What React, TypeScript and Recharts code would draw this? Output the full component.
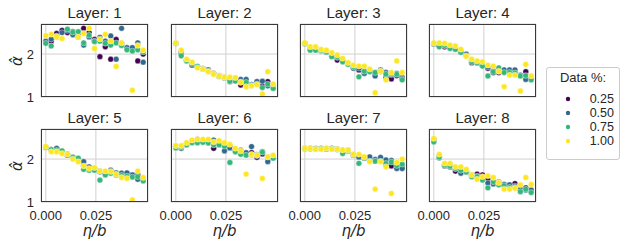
import React from 'react';
import { ScatterChart, Scatter, XAxis, YAxis, CartesianGrid } from 'recharts';

const X_VALUES = [0.0, 0.0027, 0.0054, 0.0081, 0.0108, 0.0135, 0.0162, 0.0189, 0.0216, 0.0243, 0.027, 0.0297, 0.0324, 0.0351, 0.0378, 0.0405, 0.0432, 0.0459, 0.0486];
const X_TICKS = [0, 0.025];
const Y_TICKS = [1, 2];
const SERIES_LABELS = ['0.25', '0.50', '0.75', '1.00'];
const SERIES_COLORS = ['#440154', '#31688e', '#35b779', '#fde725'];
const LAYER_TITLES = ['Layer: 1', 'Layer: 2', 'Layer: 3', 'Layer: 4', 'Layer: 5', 'Layer: 6', 'Layer: 7', 'Layer: 8'];

const L1_P25 = [2.30, 2.30, 2.48, 2.55, 2.50, 2.52, 2.45, 2.60, 2.50, 2.34, 1.94, 2.17, 1.88, 2.34, 2.25, 2.13, 2.10, 1.84, 2.00];
const L1_P50 = [2.30, 2.35, 2.40, 2.50, 2.55, 2.45, 2.40, 2.21, 2.40, 2.30, 2.39, 2.30, 2.42, 1.88, 2.60, 2.15, 2.15, 2.26, 1.81];
const L1_P75 = [2.25, 2.19, 2.42, 2.75, 2.58, 2.51, 2.52, 2.26, 2.44, 2.29, 2.30, 2.25, 2.21, 2.26, 2.20, 2.10, 2.07, 2.10, 2.05];
const L1_P100 = [2.43, 2.46, 2.40, 2.36, 2.75, 2.75, 2.40, 2.48, 2.60, 2.13, 2.35, 2.46, 2.30, 1.71, 2.26, 2.75, 1.16, 2.20, 2.09];

const L2_P25 = [2.25, 2.05, 1.86, 1.76, 1.70, 1.66, 1.63, 1.55, 1.50, 1.45, 1.36, 1.40, 1.28, 1.36, 1.29, 1.36, 1.26, 1.36, 1.28];
const L2_P50 = [2.25, 2.00, 1.85, 1.74, 1.70, 1.66, 1.60, 1.54, 1.49, 1.46, 1.40, 1.41, 1.41, 1.41, 1.29, 1.36, 1.37, 1.26, 1.26];
const L2_P75 = [2.25, 1.96, 1.84, 1.78, 1.71, 1.65, 1.61, 1.54, 1.48, 1.45, 1.37, 1.37, 1.35, 1.34, 1.27, 1.30, 1.22, 1.30, 1.20];
const L2_P100 = [2.26, 2.09, 1.88, 1.81, 1.68, 1.65, 1.59, 1.53, 1.49, 1.46, 1.46, 1.45, 1.34, 1.24, 1.26, 1.29, 1.07, 1.59, 1.30];

const L3_P25 = [2.25, 2.12, 2.12, 2.08, 2.05, 1.95, 1.86, 1.83, 1.78, 1.68, 1.63, 1.61, 1.60, 1.52, 1.60, 1.45, 1.42, 1.50, 1.45];
const L3_P50 = [2.25, 2.12, 2.12, 2.08, 2.05, 1.95, 1.92, 1.83, 1.78, 1.67, 1.67, 1.55, 1.62, 1.49, 1.63, 1.57, 1.52, 1.55, 1.42];
const L3_P75 = [2.24, 2.09, 2.09, 2.09, 2.05, 1.94, 1.94, 1.82, 1.76, 1.70, 1.47, 1.60, 1.59, 1.57, 1.60, 1.53, 1.54, 1.53, 1.40];
const L3_P100 = [2.26, 2.17, 2.17, 2.11, 2.09, 2.03, 1.98, 1.90, 1.80, 1.74, 1.72, 1.72, 1.65, 1.10, 1.60, 1.40, 1.57, 1.84, 1.57];

const L4_P25 = [2.24, 2.20, 2.17, 2.15, 2.12, 2.05, 1.98, 1.80, 1.80, 1.74, 1.67, 1.57, 1.57, 1.60, 1.58, 1.58, 1.50, 1.59, 1.43];
const L4_P50 = [2.24, 2.20, 2.20, 2.15, 2.12, 2.05, 2.00, 1.86, 1.82, 1.74, 1.70, 1.62, 1.60, 1.63, 1.63, 1.63, 1.51, 1.41, 1.41];
const L4_P75 = [2.25, 2.17, 2.20, 2.13, 2.11, 2.04, 1.96, 1.82, 1.80, 1.72, 1.49, 1.59, 1.68, 1.57, 1.57, 1.56, 1.49, 1.50, 1.40];
const L4_P100 = [2.26, 2.26, 2.25, 2.21, 2.19, 2.11, 1.95, 1.88, 1.84, 1.82, 1.74, 1.72, 1.60, 1.24, 1.51, 1.51, 1.14, 1.76, 1.49];

const L5_P25 = [2.28, 2.22, 2.24, 2.17, 2.10, 2.04, 2.00, 1.85, 1.80, 1.78, 1.71, 1.66, 1.72, 1.66, 1.64, 1.66, 1.63, 1.63, 1.55];
const L5_P50 = [2.28, 2.22, 2.25, 2.18, 2.09, 2.04, 2.00, 1.94, 1.82, 1.78, 1.71, 1.67, 1.74, 1.68, 1.67, 1.68, 1.63, 1.53, 1.55];
const L5_P75 = [2.27, 2.22, 2.20, 2.19, 2.12, 2.04, 2.02, 1.76, 1.74, 1.74, 1.51, 1.63, 1.67, 1.63, 1.62, 1.60, 1.58, 1.59, 1.49];
const L5_P100 = [2.29, 2.17, 2.17, 2.13, 2.11, 2.00, 1.94, 1.84, 1.78, 1.80, 1.72, 1.72, 1.71, 1.65, 1.57, 1.55, 1.05, 1.72, 1.57];

const L6_P25 = [2.30, 2.28, 2.36, 2.40, 2.46, 2.42, 2.38, 2.25, 2.36, 2.33, 2.30, 2.22, 2.15, 2.12, 2.15, 2.04, 2.12, 2.04, 2.05];
const L6_P50 = [2.30, 2.25, 2.36, 2.40, 2.44, 2.42, 2.40, 2.44, 2.37, 2.19, 2.26, 2.22, 2.21, 2.15, 2.29, 2.10, 2.17, 1.94, 2.05];
const L6_P75 = [2.26, 2.28, 2.33, 2.38, 2.38, 2.39, 2.38, 2.33, 2.33, 2.30, 1.92, 2.17, 2.11, 2.09, 2.10, 2.08, 2.16, 2.05, 2.02];
const L6_P100 = [2.31, 2.31, 2.38, 2.44, 2.46, 2.46, 2.46, 2.40, 2.43, 2.38, 2.34, 2.25, 2.19, 1.65, 2.11, 2.09, 1.55, 2.05, 2.09];

const L7_P25 = [2.25, 2.25, 2.24, 2.24, 2.24, 2.24, 2.23, 2.20, 2.20, 2.10, 2.05, 2.03, 1.98, 1.97, 2.00, 1.86, 1.84, 1.86, 1.85];
const L7_P50 = [2.25, 2.25, 2.24, 2.24, 2.24, 2.25, 2.23, 2.20, 2.20, 2.09, 2.05, 2.02, 2.05, 1.99, 2.04, 1.98, 1.97, 1.78, 1.78];
const L7_P75 = [2.24, 2.24, 2.24, 2.25, 2.24, 2.24, 2.22, 2.13, 2.19, 2.10, 1.90, 2.03, 1.95, 1.95, 1.95, 1.90, 1.93, 1.85, 1.88];
const L7_P100 = [2.25, 2.25, 2.23, 2.23, 2.25, 2.23, 2.23, 2.21, 2.21, 2.11, 2.11, 2.05, 1.94, 1.30, 1.94, 1.82, 1.20, 1.92, 2.00];

const L8_P25 = [2.45, 2.05, 1.86, 1.82, 1.72, 1.70, 1.70, 1.62, 1.65, 1.63, 1.55, 1.48, 1.46, 1.40, 1.40, 1.43, 1.30, 1.33, 1.27];
const L8_P50 = [2.46, 2.03, 1.84, 1.82, 1.78, 1.67, 1.72, 1.63, 1.60, 1.55, 1.44, 1.42, 1.44, 1.41, 1.40, 1.37, 1.30, 1.28, 1.28];
const L8_P75 = [2.40, 2.05, 1.86, 1.84, 1.78, 1.74, 1.70, 1.59, 1.59, 1.51, 1.33, 1.47, 1.40, 1.38, 1.34, 1.34, 1.24, 1.30, 1.22];
const L8_P100 = [2.48, 2.11, 1.90, 1.90, 1.82, 1.82, 1.76, 1.63, 1.53, 1.59, 1.61, 1.57, 1.45, 1.30, 1.30, 1.32, 1.40, 1.57, 1.41];

const LAYERS = [
  [L1_P25, L1_P50, L1_P75, L1_P100],
  [L2_P25, L2_P50, L2_P75, L2_P100],
  [L3_P25, L3_P50, L3_P75, L3_P100],
  [L4_P25, L4_P50, L4_P75, L4_P100],
  [L5_P25, L5_P50, L5_P75, L5_P100],
  [L6_P25, L6_P50, L6_P75, L6_P100],
  [L7_P25, L7_P50, L7_P75, L7_P100],
  [L8_P25, L8_P50, L8_P75, L8_P100],
];

const COL_LEFT = [41, 171, 300, 429];
const ROW_TOP = [24, 129];
const PW = 107;
const PH = 73;
const YW = 30;
const XH = 25;
const MT = 2;
const MR = 2;
const FONT = '"Liberation Sans", Arial, sans-serif';
const TEXT = '#262626';

const toPoints = (ys: number[]) => ys.map((y, i) => ({ x: X_VALUES[i], y }));

const EmptyTick = () => <g />;

function Panel({ idx }: { idx: number }) {
  const row = Math.floor(idx / 4);
  const col = idx % 4;
  const left = COL_LEFT[col];
  const top = ROW_TOP[row];
  const series = LAYERS[idx];
  const showY = col === 0;
  const showX = row === 1;
  return (
    <>
      <div style={{ position: 'absolute', left: left - YW, top: top - MT }}>
        <ScatterChart width={YW + PW + MR} height={MT + PH + XH} margin={{ top: MT, right: MR, bottom: 0, left: 0 }}>
          <CartesianGrid stroke="#d0d0d0" strokeWidth={1} />
          <XAxis
            type="number"
            dataKey="x"
            domain={[-0.0024, 0.051]}
            ticks={X_TICKS}
            allowDataOverflow
            height={XH}
            axisLine={false}
            tickLine={false}
            tickSize={0}
            tickMargin={9}
            interval={0}
            tick={showX ? { fill: TEXT, fontSize: 13, fontFamily: FONT } : EmptyTick}
            tickFormatter={(v: number) => v.toFixed(3)}
          />
          <YAxis
            type="number"
            dataKey="y"
            domain={[1, 2.7]}
            ticks={Y_TICKS}
            allowDataOverflow
            width={YW}
            axisLine={false}
            tickLine={false}
            tickSize={0}
            tickMargin={7}
            interval={0}
            tick={showY ? { fill: TEXT, fontSize: 13, fontFamily: FONT, dy: '0.28em' } : EmptyTick}
          />
          {series.map((ys, s) => (
            <Scatter
              key={s}
              name={SERIES_LABELS[s]}
              data={toPoints(ys)}
              isAnimationActive={false}
              shape={(p: any) => (
                <circle cx={p.cx} cy={p.cy} r={2.9} fill={SERIES_COLORS[s]} stroke="#ffffff" strokeWidth={0.4} />
              )}
            />
          ))}
        </ScatterChart>
      </div>
      <div
        style={{
          position: 'absolute',
          left: left,
          top: top,
          width: PW,
          height: PH,
          boxSizing: 'border-box',
          border: '1.2px solid #3a3a3a',
          pointerEvents: 'none',
        }}
      />
      <div
        style={{
          position: 'absolute',
          left: left - 20,
          width: PW + 40,
          top: top - 20,
          textAlign: 'center',
          fontFamily: FONT,
          fontSize: 15,
          color: TEXT,
          lineHeight: '18px',
        }}
      >
        {LAYER_TITLES[idx]}
      </div>
      {showY && (
        <div
          style={{
            position: 'absolute',
            left: 17 - 20,
            top: top + PH / 2 - 10,
            width: 40,
            height: 20,
            lineHeight: '20px',
            textAlign: 'center',
            transform: 'rotate(-90deg)',
            fontFamily: '"DejaVu Sans", sans-serif',
            fontStyle: 'italic',
            fontSize: 15,
            color: TEXT,
          }}
        >
          {'α\u0302'}
        </div>
      )}
      {showX && (
        <div
          style={{
            position: 'absolute',
            left: left,
            width: PW,
            top: top + PH + 21,
            textAlign: 'center',
            fontFamily: '"DejaVu Sans", sans-serif',
            fontStyle: 'italic',
            fontSize: 15,
            lineHeight: '17px',
            color: TEXT,
          }}
        >
          η/b
        </div>
      )}
    </>
  );
}

function LegendBox() {
  return (
    <div
      style={{
        position: 'absolute',
        left: 546,
        top: 67,
        width: 74,
        height: 93,
        boxSizing: 'border-box',
        border: '1px solid #cccccc',
        borderRadius: 3,
        fontFamily: FONT,
        fontSize: 12.5,
        color: TEXT,
      }}
    >
      <div style={{ position: 'absolute', left: 0, width: 72, top: 3, textAlign: 'center', lineHeight: '14px', fontSize: 13 }}>Data %:</div>
      {SERIES_LABELS.map((lab, i) => (
        <div key={lab} style={{ position: 'absolute', left: 0, top: 23.5 + i * 14.3, width: 72, height: 14 }}>
          <svg width={10} height={10} style={{ position: 'absolute', left: 16, top: 2 }}>
            <circle cx={5} cy={5} r={2.2} fill={SERIES_COLORS[i]} />
          </svg>
          <div style={{ position: 'absolute', right: 5, top: 0, lineHeight: '14px' }}>{lab}</div>
        </div>
      ))}
    </div>
  );
}

export default function App() {
  return (
    <div style={{ position: 'absolute', left: 0, top: 0, width: 623, height: 249, background: '#ffffff', overflow: 'hidden' }}>
      {LAYERS.map((_, i) => (
        <Panel key={i} idx={i} />
      ))}
      <LegendBox />
    </div>
  );
}
